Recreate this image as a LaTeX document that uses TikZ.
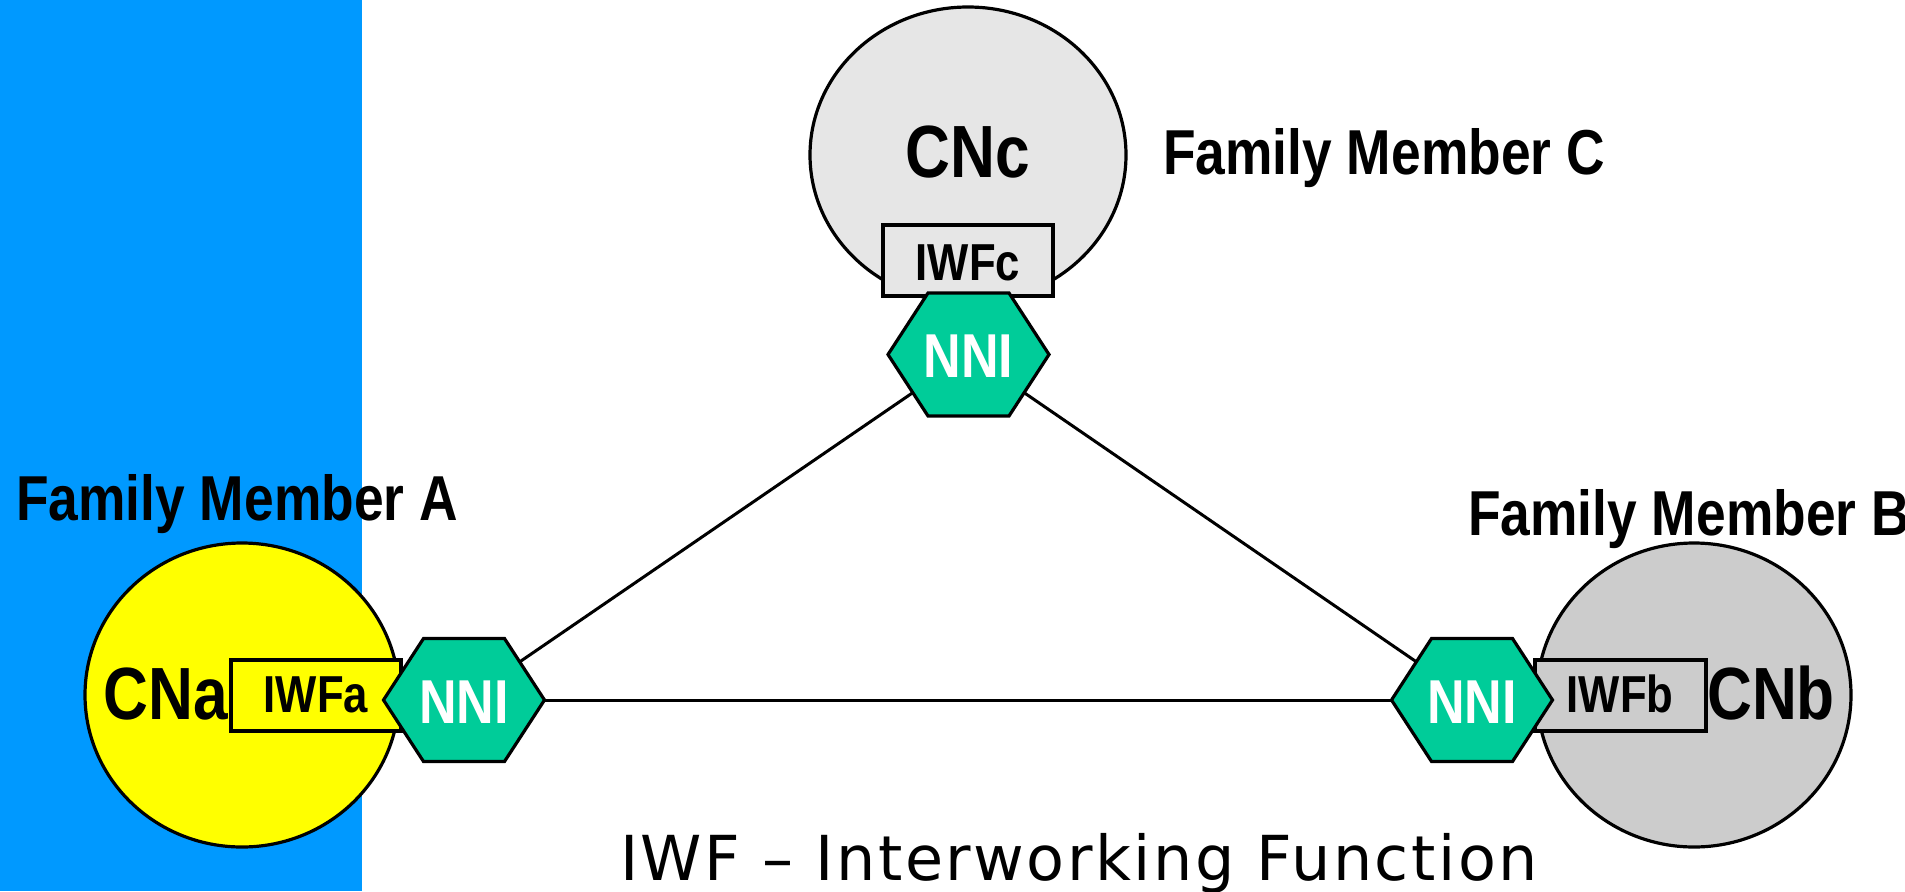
\documentclass[tikz,border=0pt]{standalone}
\usepackage{fontspec}
\setmainfont{Liberation Sans}
\newfontfamily\narrowfont{Liberation Sans}[FakeStretch=0.84]
\newfontfamily\captionfont{DejaVu Sans}[LetterSpace=4]
\usetikzlibrary{shapes.geometric,calc}
\definecolor{bandblue}{HTML}{0099FF}
\definecolor{cnyellow}{HTML}{FFFF00}
\definecolor{cnlight}{HTML}{E6E6E6}
\definecolor{cngrey}{HTML}{CCCCCC}
\definecolor{nnigreen}{HTML}{00CC99}
\tikzset{
  outline/.style={draw=black, line width=3.2pt},
  cnode/.style={outline, ellipse, inner sep=0pt},
  iwfbox/.style={outline},
  nnihex/.style={outline, fill=nnigreen, line join=miter},
  link/.style={draw=black, line width=3pt},
  famlabel/.style={inner sep=0pt, font=\narrowfont\bfseries\fontsize{63.5}{63.5}\selectfont},
  cnlabel/.style={inner sep=0pt, font=\narrowfont\bfseries\fontsize{74}{74}\selectfont},
  iwflabel/.style={inner sep=0pt, font=\narrowfont\bfseries\fontsize{52}{52}\selectfont},
  nnilabel/.style={inner sep=0pt, text=white, font=\narrowfont\bfseries\fontsize{62}{62}\selectfont},
  caption/.style={inner sep=0pt, font=\captionfont\fontsize{62}{62}\selectfont}
}
\begin{document}
\begin{tikzpicture}[x=1pt, y=-1pt]
  \useasboundingbox (0,0) rectangle (1905,891);
  % blue band on the left
  \fill[bandblue] (0,0) rectangle (362,891);

  % hexagon centres
  \coordinate (hA) at (464,700);
  \coordinate (hB) at (1472,700);
  \coordinate (hC) at (968.5,354.5);

  % links between the NNIs
  \draw[link] (hA) -- (hC);
  \draw[link] (hC) -- (hB);
  \draw[link] (hA) -- (hB);

  % core networks
  \node[cnode, fill=cnyellow, minimum width=314pt, minimum height=304pt] (cA) at (242,695) {};
  \node[cnode, fill=cngrey, minimum width=314pt, minimum height=304pt] (cB) at (1694,695) {};
  \node[cnode, fill=cnlight, minimum width=316pt, minimum height=296pt] (cC) at (968,155) {};

  % interworking function boxes
  \draw[iwfbox, fill=cnyellow] (231,660) rectangle (401,731);
  \draw[iwfbox, fill=cngrey] (1535,660) rectangle (1706,731);
  \draw[iwfbox, fill=cnlight] (883,225) rectangle (1053,296);

  % NNI hexagons
  \foreach \h in {hA,hB,hC}
    \draw[nnihex, shift={(\h)}] (-80.5,0) -- (-40.5,-61.5) -- (40.5,-61.5) -- (80.5,0) -- (40.5,61.5) -- (-40.5,61.5) -- cycle;

  % labels
  \node[nnilabel] (nA) at ($(hA)+(0,2)$) {NNI};
  \node[nnilabel] (nB) at ($(hB)+(0,2)$) {NNI};
  \node[nnilabel] (nC) at ($(hC)+(0,2)$) {NNI};

  \node[cnlabel, anchor=base] (tA) at (166,719) {CNa};
  \node[cnlabel, anchor=base] (tB) at (1771,719) {CNb};
  \node[cnlabel, anchor=base] (tC) at (968,177) {CNc};

  \node[iwflabel, anchor=base] (iA) at (316,712) {IWFa};
  \node[iwflabel, anchor=base] (iB) at (1620,712) {IWFb};
  \node[iwflabel, anchor=base] (iC) at (968,280) {IWFc};

  \node[famlabel, anchor=base west] (fA) at (16,520) {Family Member A};
  \node[famlabel, anchor=base west] (fB) at (1468,535) {Family Member B};
  \node[famlabel, anchor=base west] (fC) at (1163,174) {Family Member C};

  \node[caption, anchor=base west] (cap) at (620,880) {IWF – Interworking Function};
\end{tikzpicture}
\end{document}
